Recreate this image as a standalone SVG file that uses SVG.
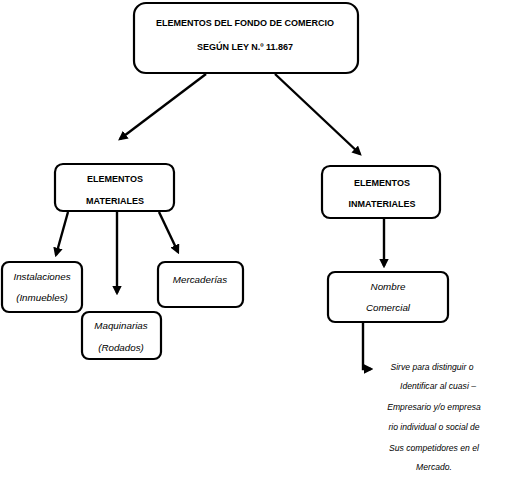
<svg xmlns="http://www.w3.org/2000/svg" width="521" height="480" viewBox="0 0 521 480">
<defs>
<marker id="ah" markerWidth="4" markerHeight="4" refX="3" refY="2" orient="auto" markerUnits="strokeWidth">
<path d="M0,0 L4,2 L0,4 Z" fill="#000"/>
</marker>
<style>
.box{fill:#fff;stroke:#000;stroke-width:2.2}
.h{font-family:"Liberation Sans",Arial,sans-serif;font-weight:bold;font-size:9px;text-anchor:middle;fill:#000}
.i{font-family:"Liberation Sans",Arial,sans-serif;font-style:italic;font-size:9.8px;text-anchor:middle;fill:#000}
.n{font-family:"Liberation Sans",Arial,sans-serif;font-style:italic;font-size:8.6px;text-anchor:middle;fill:#000}
.c{fill:none;stroke:#000;stroke-width:2.4;marker-end:url(#ah)}
</style>
</defs>
<rect width="521" height="480" fill="#fff"/>
<g id="connectors">
<line class="c" x1="206" y1="74" x2="120" y2="139"/>
<line class="c" x1="275" y1="74" x2="360" y2="154"/>
<line class="c" x1="68" y1="212" x2="56" y2="255"/>
<line class="c" x1="117" y1="212" x2="117" y2="293"/>
<line class="c" x1="159" y1="212" x2="178" y2="252"/>
<line class="c" x1="384" y1="218" x2="384" y2="266"/>
<polyline class="c" points="363,322 363,369 371,369"/>
</g>
<g id="root">
<rect class="box" x="134" y="3" width="224" height="70" rx="12"/>
<text class="h" x="245" y="26">ELEMENTOS DEL FONDO DE COMERCIO</text>
<text class="h" x="245" y="50">SEGÚN LEY N.º 11.867</text>
</g>
<g id="materiales">
<rect class="box" x="55" y="164" width="119" height="47" rx="8"/>
<text class="h" x="115" y="182">ELEMENTOS</text>
<text class="h" x="115" y="204">MATERIALES</text>
</g>
<g id="inmateriales">
<rect class="box" x="322" y="166" width="118" height="52" rx="8"/>
<text class="h" x="382" y="186">ELEMENTOS</text>
<text class="h" x="382" y="207">INMATERIALES</text>
</g>
<g id="instalaciones">
<rect class="box" x="2" y="262" width="80" height="50" rx="7"/>
<text class="i" x="42" y="280">Instalaciones</text>
<text class="i" x="42" y="301">(Inmuebles)</text>
</g>
<g id="maquinarias">
<rect class="box" x="82" y="312" width="79" height="47" rx="7"/>
<text class="i" x="121" y="329">Maquinarias</text>
<text class="i" x="121" y="351">(Rodados)</text>
</g>
<g id="mercaderias">
<rect class="box" x="158" y="262" width="85" height="45" rx="7"/>
<text class="i" x="200" y="283">Mercaderías</text>
</g>
<g id="nombre">
<rect class="box" x="328" y="272" width="120" height="50" rx="7"/>
<text class="i" x="388" y="290">Nombre</text>
<text class="i" x="388" y="311">Comercial</text>
</g>
<g id="descripcion">
<text class="n" x="432" y="370">Sirve para distinguir o</text>
<text class="n" x="438" y="389">Identificar al cuasi –</text>
<text class="n" x="434" y="410">Empresario y/o empresa</text>
<text class="n" x="434" y="430">rio individual o social de</text>
<text class="n" x="434" y="451">Sus competidores en el</text>
<text class="n" x="434" y="470">Mercado.</text>
</g>
</svg>
